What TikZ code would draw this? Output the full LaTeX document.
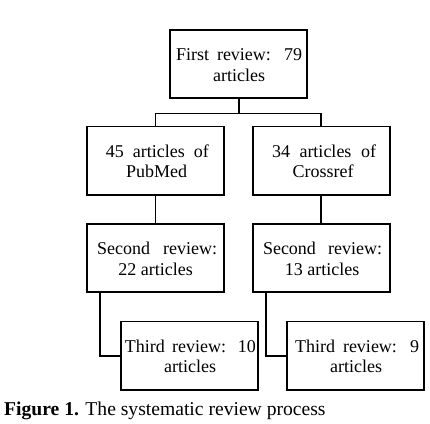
\documentclass[tikz,border=0pt]{standalone}
\usepackage{fontspec}
\setmainfont{Liberation Serif}
\newcommand\bxline[2]{\hbox to 137pt{\hfil\kern#1pt #2\kern-#1pt\hfil}}
\newcommand\boxtext[5]{\vbox{\baselineskip=20.3pt\lineskiplimit=-100pt\lineskip=0pt
 \bxline{#2}{\rule{0pt}{31pt}\makebox[#1pt][s]{#4}}
 \bxline{#3}{#5\rule[-17.2pt]{0pt}{17.2pt}}}}
\tikzset{
  box/.style={draw, line width=1.8pt, inner sep=0pt, minimum width=137pt,
    minimum height=68.5pt, font=\fontsize{18}{20.3}\selectfont},
  conn/.style={line width=1.6pt}
}
\begin{document}
\begin{tikzpicture}[x=1pt,y=-1pt]
\useasboundingbox (0,0) rectangle (430,423);
\node[box] (top) at (238.7,64) {\boxtext{126}{0.3}{0.3}{First review: 79}{articles}};
\node[box] (L1) at (155.6,160.7) {\boxtext{103}{1.8}{1}{45 articles of}{PubMed}};
\node[box] (R1) at (321.2,160.7) {\boxtext{104}{2.8}{1.8}{34 articles of}{Crossref}};
\node[box] (L2) at (155.6,258) {\boxtext{120}{1.5}{0}{Second review:}{22 articles}};
\node[box] (R2) at (321.2,258) {\boxtext{119}{1.3}{0.8}{Second review:}{13 articles}};
\node[box] (L3) at (189.7,355.7) {\boxtext{131}{0.6}{0.3}{Third review: 10}{articles}};
\node[box] (R3) at (355.5,355.7) {\boxtext{124}{1.5}{0.5}{Third review: 9}{articles}};
\draw[conn] (top.south) -- ++(0,14.5) coordinate (split) -| (L1.north);
\draw[conn] (split) -| (R1.north);
\draw[conn] (L1.south) -- (L2.north);
\draw[conn] (R1.south) -- (R2.north);
\draw[conn] ([xshift=14pt]L2.south west) |- (L3.west);
\draw[conn] ([xshift=14pt]R2.south west) |- (R3.west);
\node[anchor=base west, inner sep=0pt, font=\fontsize{19.6}{22}\selectfont] (cap) at (4,415)
  {\textbf{Figure 1.} The systematic review process};
\end{tikzpicture}
\end{document}
